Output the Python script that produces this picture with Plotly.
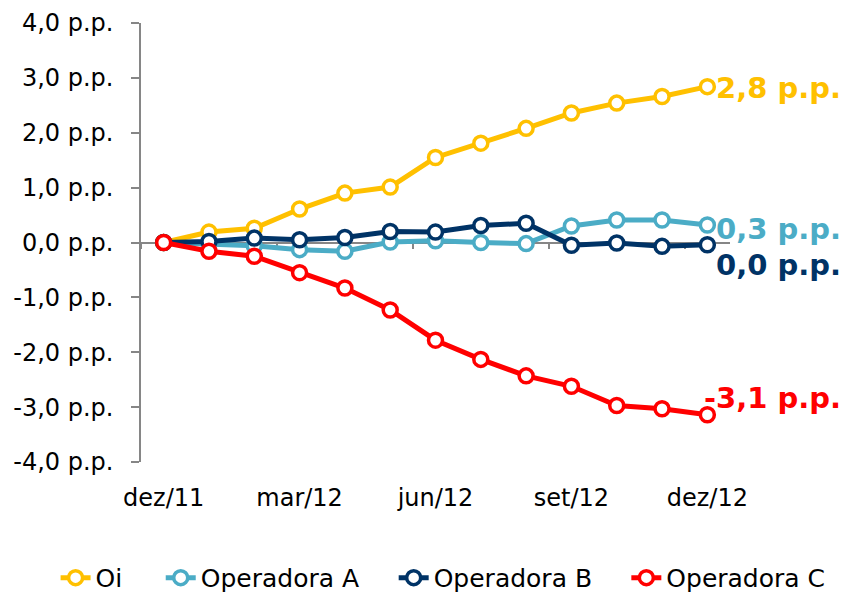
import plotly.graph_objects as go

months = ["dez/11", "jan/12", "fev/12", "mar/12", "abr/12", "mai/12", "jun/12",
          "jul/12", "ago/12", "set/12", "out/12", "nov/12", "dez/12"]
x_idx = list(range(len(months)))

oi = [0, 0.19, 0.26, 0.61, 0.90, 1.01, 1.55, 1.81, 2.08, 2.36, 2.54, 2.66, 2.84]
op_a = [0, -0.02, -0.06, -0.13, -0.16, 0.01, 0.03, 0.0, -0.02, 0.30, 0.41, 0.41, 0.32]
op_b = [0, 0.02, 0.08, 0.05, 0.09, 0.20, 0.19, 0.31, 0.35, -0.05, -0.01, -0.07, -0.04]
op_c = [0, -0.16, -0.25, -0.55, -0.83, -1.23, -1.78, -2.13, -2.43, -2.62, -2.97, -3.03, -3.14]

series_names = ["Oi", "Operadora A", "Operadora B", "Operadora C"]
series_values = [oi, op_a, op_b, op_c]
series_colors = ["#FFC000", "#4BACC6", "#003366", "#FF0000"]
end_labels = ["2,8 p.p.", "0,3 p.p.", "0,0 p.p.", "-3,1 p.p."]
end_yshift = [-1, -4, -20, 17]
end_xshift = [7, 7, 7, -5]

y_ticks = [4, 3, 2, 1, 0, -1, -2, -3, -4]
y_ticktext = ["4,0 p.p.", "3,0 p.p.", "2,0 p.p.", "1,0 p.p.", "0,0 p.p.",
              "-1,0 p.p.", "-2,0 p.p.", "-3,0 p.p.", "-4,0 p.p."]
x_tick_idx = [0, 3, 6, 9, 12]

# separate legend for each series, left positions (paper fraction)
legend_ids = ["legend", "legend2", "legend3", "legend4"]
legend_x = [-0.145, 0.0335, 0.429, 0.824]

FONT = "DejaVu Sans"
GRAY = "#868686"

fig = go.Figure()
for name, vals, col, lid in zip(series_names, series_values, series_colors, legend_ids):
    fig.add_trace(go.Scatter(
        x=x_idx, y=vals, name=name, mode="lines+markers",
        line=dict(color=col, width=5),
        marker=dict(symbol="circle", size=14, color="white",
                    line=dict(color=col, width=3.5)),
        cliponaxis=False, legend=lid,
    ))

# invisible trace to host the zero-line category axis
fig.add_trace(go.Scatter(x=x_idx, y=oi, xaxis="x2", mode="lines",
                         line=dict(width=0), opacity=0, showlegend=False,
                         hoverinfo="skip"))

for vals, col, lab, ys, xs in zip(series_values, series_colors, end_labels,
                                  end_yshift, end_xshift):
    fig.add_annotation(x=x_idx[-1], y=vals[-1], text=lab, showarrow=False,
                       xanchor="left", yanchor="middle", xshift=xs, yshift=ys,
                       font=dict(family=FONT, size=29, color=col, weight="bold"))

legend_common = dict(orientation="h", xanchor="left", y=-0.264,
                     yanchor="middle", font=dict(family=FONT, size=25, color="black"),
                     itemwidth=30, bgcolor="rgba(0,0,0,0)")

layout_legends = {}
for lid, lx in zip(legend_ids, legend_x):
    layout_legends[lid] = dict(legend_common, x=lx)

# page body has an 8px default margin, so the figure is 8px smaller
fig.update_layout(
    width=840, height=586,
    margin=dict(l=133, r=118, t=15, b=132, autoexpand=False),
    paper_bgcolor="white", plot_bgcolor="white",
    font=dict(family=FONT, size=24, color="black"),
    showlegend=True,
    xaxis=dict(range=[-0.5, 12.5], tickvals=x_tick_idx,
               ticktext=[months[i] for i in x_tick_idx],
               showline=False, showgrid=False, zeroline=False, ticks="",
               ticklabelstandoff=19,
               tickfont=dict(family=FONT, size=24, color="black")),
    xaxis2=dict(range=[-0.5, 12.5], overlaying="x", anchor="free", position=0.5,
                side="bottom", showline=True, linecolor=GRAY, linewidth=1.5,
                ticks="outside", ticklen=6, tickwidth=1.5, tickcolor=GRAY,
                tickvals=[-0.5, 2.5, 5.5, 8.5, 11.5], showticklabels=False,
                showgrid=False, zeroline=False, layer="below traces"),
    yaxis=dict(range=[-4, 4], tickvals=y_ticks, ticktext=y_ticktext,
               showline=True, linecolor=GRAY, linewidth=1.5,
               ticks="outside", ticklen=8, tickwidth=1.5, tickcolor=GRAY,
               showgrid=False, zeroline=False, ticklabelstandoff=13,
               tickfont=dict(family=FONT, size=24, color="black")),
    **layout_legends,
)

fig.write_html("out.html")
